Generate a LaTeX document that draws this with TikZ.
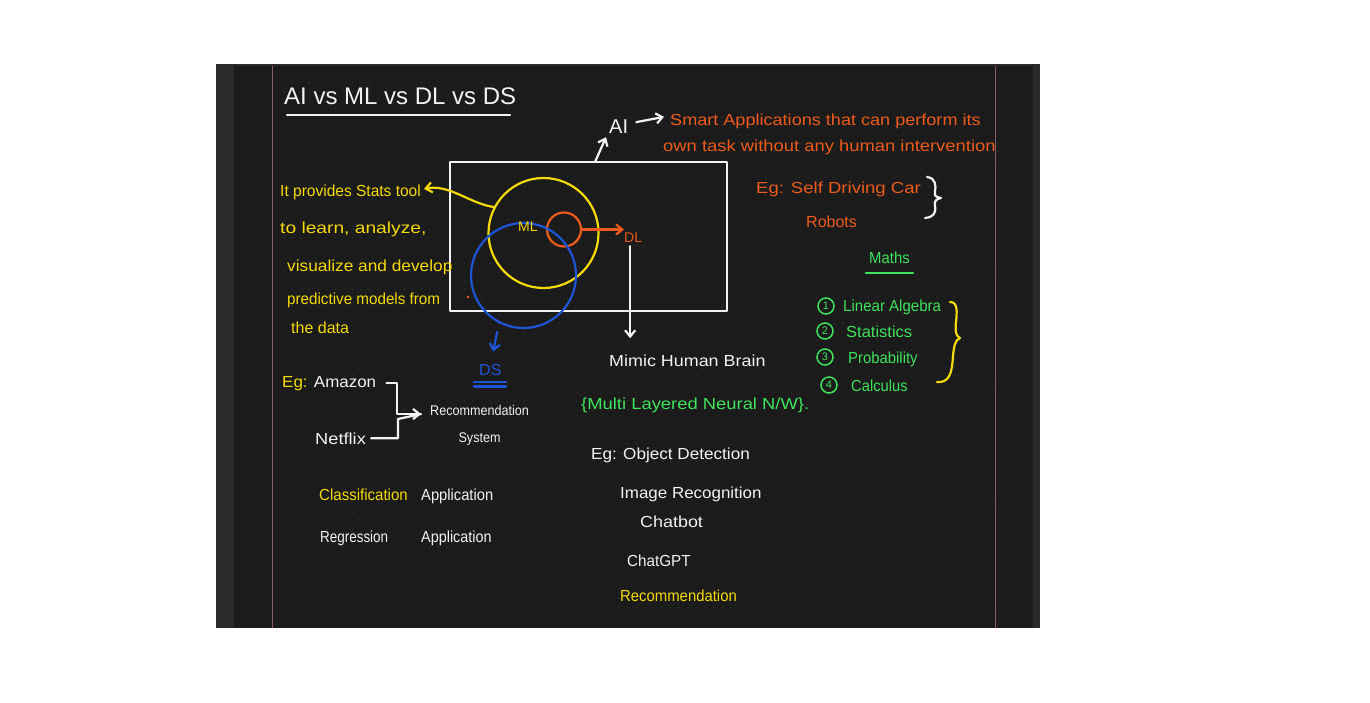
\documentclass[tikz,border=0pt]{standalone}
\usepackage{fontspec}
\setmainfont{Liberation Sans}
\usetikzlibrary{positioning,arrows.meta,patterns.meta}

\definecolor{panelside}{HTML}{2A2A2A}
\definecolor{panelbg}{HTML}{1B1B1B}
\definecolor{dotc}{HTML}{333333}
\definecolor{marginc}{HTML}{8C5A6C}
\definecolor{inkwhite}{HTML}{F2F2F2}
\definecolor{inkorange}{HTML}{EC5A1C}
\definecolor{inkyellow}{HTML}{F4D90C}
\definecolor{inkgreen}{HTML}{3FE35C}
\definecolor{inkblue}{HTML}{1E55D6}

\begin{document}
\begin{tikzpicture}[
  x=1pt, y=-1pt,
  hand/.style  = {inner sep=0pt, anchor=base west, font=\fontsize{16}{27}\selectfont},
  hs/.style    = {font=\fontsize{16}{27}\selectfont\addfontfeatures{FakeStretch=#1}},
  wtxt/.style  = {hand, text=inkwhite},
  otxt/.style  = {hand, text=inkorange},
  ytxt/.style  = {hand, text=inkyellow},
  gtxt/.style  = {hand, text=inkgreen},
  btxt/.style  = {hand, text=inkblue},
  pen/.style   = {line width=2.2pt, line cap=round, line join=round},
  arr/.style   = {pen, -{Straight Barb[length=2.2mm,width=3.6mm]}},
  ring/.style  = {circle, draw, pen, inner sep=0pt, outer sep=0pt},
  numc/.style  = {circle, draw=inkgreen, text=inkgreen, line width=1.5pt,
                  minimum size=16pt, inner sep=0pt, font=\fontsize{11}{11}\selectfont},
]

% page and board
\useasboundingbox (0,0) rectangle (1370,702);
\fill[white] (0,0) rectangle (1370,702);
\fill[panelside] (216,64) rectangle (1040,628);
\fill[panelbg] (234,66) rectangle (1033,628);
\fill[pattern={Dots[distance=8.6pt,radius=0.7pt]}, pattern color=dotc] (234,66) rectangle (1033,628);
\draw[marginc, line width=1pt] (272.5,66) -- (272.5,628);
\draw[marginc, line width=1pt] (995.5,66) -- (995.5,628);

% title
\node[wtxt, font=\fontsize{24}{28}\selectfont] (title) at (284,104) {AI vs ML vs DL vs DS};
\draw[pen, inkwhite] (287,115) -- (510,115);

% AI box and circles
\node[draw=inkwhite, pen, minimum width=277pt, minimum height=149pt,
      inner sep=0pt, outer sep=0pt] (aibox) at (588.5,236.5) {};
\node[ring, draw=inkyellow, minimum size=110pt] (mlc) at (543.5,233) {};
\node[ring, draw=inkorange, minimum size=34pt] (dlc) at (564,229.5) {};
\node[ring, draw=inkblue, minimum size=105pt] (dsc) at (523.5,275.5) {};
\node[ytxt, font=\fontsize{14}{16}\selectfont] (ml) at (518,231) {ML};
\fill[inkorange] (468,297) circle (1.3);

% AI definition
\node[wtxt, font=\fontsize{20}{22}\selectfont] (ai) at (609,133) {AI};
\node[otxt, hs=1.13] (smart) at (670,125) {Smart Applications that can perform its};
\node[otxt, hs=1.15] (task) at (663,151) {own task without any human intervention};
\node[otxt, hs=1.16] (egcar) at (756,193) {Eg: Self Driving Car};
\node[otxt] (robots) at (806,227) {Robots};
\draw[arr, inkwhite] ([xshift=6.5pt]aibox.north) -- ([xshift=-3pt,yshift=-4pt]ai.south west);
\draw[arr, inkwhite] ([xshift=8pt,yshift=4pt]ai.east) -- ([xshift=-6pt,yshift=4pt]smart.west);
\draw[pen, inkwhite] (927,177) .. controls (936,178) and (936,186) .. (935,192)
  .. controls (934,196) and (936,197) .. (941,198)
  .. controls (936,199) and (934,201) .. (935,206)
  .. controls (936,213) and (934,217) .. (925,218);

% DL
\node[otxt, font=\fontsize{14}{16}\selectfont] (dl) at (624,242) {DL};
\draw[arr, inkorange] (dlc.east) -- (dlc.east -| dl.west);
\draw[arr, inkwhite] ([xshift=-3pt,yshift=-4pt]dl.south) -- ++(0,92);
\node[wtxt, hs=1.12] (mimic) at (609,366) {Mimic Human Brain};
\node[gtxt, hs=1.15] (multi) at (581,409) {\{Multi Layered Neural N/W\}.};
\node[wtxt, hs=1.07] (egobj) at (591,459) {Eg: Object Detection};
\node[wtxt, hs=1.06] (imgrec) at (620,498) {Image Recognition};
\node[wtxt, hs=1.12] (chatbot) at (640,527) {Chatbot};
\node[wtxt, hs=0.95] (chatgpt) at (627,566) {ChatGPT};
\node[ytxt, hs=0.93] (recomm) at (620,601) {Recommendation};

% DS
\node[btxt] (ds) at (479,375) {DS};
\coordinate (dsTail) at (497,332);
\draw[arr, inkblue] (dsTail) -- ([xshift=3pt,yshift=12pt]ds.north);
\draw[pen, inkblue] (474,382) -- (506,382);
\draw[pen, inkblue] (474,386.5) -- (506,386.5);

% ML description
\node[ytxt, hs=0.97] (stats) at (280,196) {It provides Stats tool};
\node[ytxt, hs=1.2] (learn) at (280,233) {to learn, analyze,};
\node[ytxt, hs=1.08] (visual) at (287,271) {visualize and develop};
\node[ytxt, hs=0.95] (predict) at (287,304) {predictive models from};
\node[ytxt] (data) at (291,333) {the data};
\draw[arr, inkyellow] (mlc.152) .. controls (470,204) and (450,184) .. ([xshift=3pt,yshift=3pt]stats.east);

% recommendation example
\node[wtxt, hs=1.06] (amazon) at (282,387) {\textcolor{inkyellow}{Eg:} Amazon};
\node[wtxt, hs=1.14] (netflix) at (315,444) {Netflix};
\node[wtxt, font=\fontsize{14}{27}\selectfont\addfontfeatures{FakeStretch=0.9},
      align=center, anchor=north west] (recsys) at (430,405) {Recommendation\\System};
\coordinate (join) at (421,414);
\draw[arr, inkwhite] ([xshift=10pt]amazon.east) -| (397,414) -- (join);
\draw[pen, inkwhite] ([xshift=5pt]netflix.east) -| (398,419) -- (join);
\node[ytxt, hs=0.94] (cls) at (319,500) {Classification};
\node[wtxt, hs=0.92] (clsapp) at (421,500) {Application};
\node[wtxt, hs=0.84] (reg) at (320,542) {Regression};
\node[wtxt, hs=0.9] (regapp) at (421,542) {Application};

% maths
\node[gtxt, hs=0.93] (maths) at (869,263) {Maths};
\draw[pen, inkgreen] (866,273) -- (913,273);
\node[numc] (n1) at (826,306) {1};
\node[numc] (n2) at (825,331) {2};
\node[numc] (n3) at (825,357) {3};
\node[numc] (n4) at (829,385) {4};
\node[gtxt, hs=0.94] (linalg) at (843,311) {Linear Algebra};
\node[gtxt, hs=1.03] (statis) at (846,337) {Statistics};
\node[gtxt, hs=0.93] (prob) at (848,363) {Probability};
\node[gtxt, hs=0.92] (calc) at (851,391) {Calculus};
\draw[pen, inkyellow] (950,302) .. controls (958,302) and (957,312) .. (956,322)
  .. controls (955,332) and (956,336) .. (960,338)
  .. controls (955,340) and (954,346) .. (953,356)
  .. controls (952,372) and (950,383) .. (937,382);

\end{tikzpicture}
\end{document}
